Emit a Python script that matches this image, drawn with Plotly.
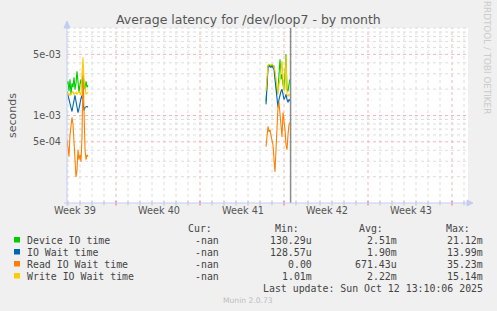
import math
import pandas as pd
import plotly.graph_objects as go

# ---------------- data ----------------
seg1_start = "2025-09-23 22:00"
seg2_start = "2025-10-10 12:00"
sample_step = "2h"

device_seg1 = [2.27e-3, 2.46e-3, 1.89e-3, 2.59e-3, 1.74e-3, 2.33e-3, 2.10e-3, 2.73e-3, 1.99e-3, 2.33e-3, 3.20e-3,
               2.21e-3, 1.84e-3, 2.27e-3, 2.59e-3, 2.10e-3, 2.88e-3, 2.33e-3, 1.99e-3, 2.46e-3, 2.10e-3, 2.21e-3]
iowait_seg1 = [1.89e-3, 1.74e-3, 1.53e-3, 1.37e-3, 1.24e-3, 1.11e-3, 1.30e-3, 1.53e-3, 1.70e-3, 1.45e-3, 1.24e-3,
               1.08e-3, 1.20e-3, 1.41e-3, 1.57e-3, 1.70e-3, 1.34e-3, 1.14e-3, 1.24e-3, 1.27e-3, 1.27e-3, 1.24e-3]
read_seg1 = [5.3e-4, 4.07e-4, 3.38e-4, 6.0e-4, 8.5e-4, 9.5e-4, 7.9e-4, 4.6e-4, 2.73e-4, 1.99e-4, 2.39e-4,
             4.07e-4, 3.12e-4, 3.56e-4, 2.96e-4, 5.7e-4, 3.38e-3, 9.0e-4, 4.07e-4, 3.12e-4, 3.56e-4, 3.38e-4]
write_seg1 = [1.84e-3, 1.74e-3, 1.79e-3, 1.70e-3, 1.74e-3, 1.79e-3, 1.89e-3, 1.74e-3, 1.79e-3, 1.84e-3, 1.74e-3,
              1.79e-3, 1.89e-3, 1.79e-3, 1.70e-3, 2.96e-3, 4.64e-3, 2.59e-3, 1.89e-3, 1.74e-3, 1.79e-3, 1.84e-3]

device_seg2 = [1.45e-3, 2.59e-3, 3.66e-3, 3.76e-3, 3.66e-3, 3.66e-3, 3.76e-3, 3.66e-3, 3.66e-3, 2.96e-3, 2.27e-3,
               1.74e-3, 1.99e-3, 3.38e-3, 4.40e-3, 2.59e-3, 2.96e-3, 2.27e-3, 1.99e-3, 2.96e-3, 5.02e-3, 1.99e-3,
               1.89e-3, 2.27e-3, 2.59e-3]
iowait_seg2 = [1.34e-3, 2.27e-3, 3.56e-3, 3.66e-3, 3.56e-3, 3.56e-3, 3.66e-3, 3.56e-3, 3.38e-3, 2.59e-3, 1.99e-3,
               1.34e-3, 1.24e-3, 1.53e-3, 1.74e-3, 1.89e-3, 1.99e-3, 1.74e-3, 1.53e-3, 1.61e-3, 1.74e-3, 1.53e-3,
               1.41e-3, 1.53e-3, 1.45e-3]
read_seg2 = [4.4e-4, 6.0e-4, 7.5e-4, 6.5e-4, 6.9e-4, 5.9e-4, 5.3e-4, 4.6e-4, 3.12e-4, 2.27e-4, 4.07e-4,
             9.5e-4, 1.24e-3, 1.41e-3, 1.03e-3, 7.9e-4, 5.7e-4, 1.08e-3, 9.0e-4, 6.9e-4, 4.6e-4, 4.07e-4,
             6.0e-4, 7.9e-4, 8.3e-4]
write_seg2 = [1.89e-3, 2.96e-3, 3.76e-3, 3.86e-3, 3.76e-3, 3.76e-3, 3.86e-3, 3.76e-3, 3.66e-3, 3.20e-3, 2.59e-3,
              1.89e-3, 1.74e-3, 2.27e-3, 2.59e-3, 3.38e-3, 4.18e-3, 2.59e-3, 1.89e-3, 2.10e-3, 4.77e-3, 1.74e-3,
              1.65e-3, 1.74e-3, 1.70e-3]

series_names = ["Device IO time", "IO Wait time", "Read IO Wait time", "Write IO Wait time"]
series_colors = ["#00CC00", "#0066B3", "#FF8000", "#FFCC00"]
cur_values = ["-nan", "-nan", "-nan", "-nan"]
min_values = ["130.29u", "128.57u", "0.00", "1.01m"]
avg_values = ["2.51m", "1.90m", "671.43u", "2.22m"]
max_values = ["21.12m", "13.99m", "35.23m", "15.14m"]

week_label_times = ["2025-09-24 14:00", "2025-10-01 14:00", "2025-10-08 14:00", "2025-10-15 14:00", "2025-10-22 14:00"]
week_labels = ["Week 39", "Week 40", "Week 41", "Week 42", "Week 43"]
week_boundaries = ["2025-09-28", "2025-10-05", "2025-10-12", "2025-10-19", "2025-10-26"]
y_tick_vals = [5e-4, 1e-3, 5e-3]
y_tick_text = ["5e-04", "1e-03", "5e-03"]
now_time = "2025-10-12 13:10:06"
x_range = ["2025-09-23 22:00", "2025-10-27 08:00"]

title_text = "Average latency for /dev/loop7 - by month"
last_update = "Last update: Sun Oct 12 13:10:06 2025"

# ---------------- geometry helpers ----------------
W, H = 497, 311
L, R, T, B = 67, 468, 28, 203


def px(x):
    return (x - L) / (R - L)


def py(y):
    return (B - y) / (B - T)


t1 = pd.date_range(seg1_start, periods=len(device_seg1), freq=sample_step)
t2 = pd.date_range(seg2_start, periods=len(device_seg2), freq=sample_step)
gap = t1[-1] + pd.Timedelta(sample_step)
xs = list(t1) + [gap] + list(t2)

all_series = [
    device_seg1 + [None] + device_seg2,
    iowait_seg1 + [None] + iowait_seg2,
    read_seg1 + [None] + read_seg2,
    write_seg1 + [None] + write_seg2,
]

fig = go.Figure()
for name, color, ys in zip(series_names, series_colors, all_series):
    fig.add_trace(go.Scatter(x=xs, y=ys, mode="lines", name=name,
                             line=dict(color=color, width=1.1), connectgaps=False,
                             hoverinfo="skip"))

minor_col = "#DEDEDE"
major_col = "#F4B4B4"
shapes = []
# vertical grid: daily minor, weekly major
day = pd.Timestamp("2025-09-24")
end = pd.Timestamp(x_range[1])
wb = set(pd.Timestamp(d) for d in week_boundaries)
while day <= end:
    major = day in wb
    shapes.append(dict(type="line", xref="x", yref="paper", x0=day, x1=day, y0=0, y1=1,
                       line=dict(color=major_col if major else minor_col, width=1, dash="dot"),
                       layer="below"))
    shapes.append(dict(type="line", xref="x", yref="paper", x0=day, x1=day, y0=py(201), y1=py(205.5),
                       line=dict(color="#E07070" if major else "#C4C4C4", width=1)))
    day += pd.Timedelta("1D")

# horizontal grid (log)
for e in (-4, -3):
    for k in range(1, 10):
        v = k * 10 ** e
        lv = math.log10(v)
        yp = (lv + 4) / 2
        if yp <= 0:
            continue
        major = any(abs(v - tv) < 1e-12 for tv in y_tick_vals)
        shapes.append(dict(type="line", xref="paper", yref="paper", x0=0, x1=1, y0=yp, y1=yp,
                           line=dict(color=major_col if major else minor_col, width=1, dash="dot"),
                           layer="below"))
shapes.append(dict(type="line", xref="paper", yref="paper", x0=0, x1=1, y0=1, y1=1,
                   line=dict(color=minor_col, width=1, dash="dot"), layer="below"))

# now line
shapes.append(dict(type="line", xref="x", yref="paper", x0=now_time, x1=now_time, y0=0, y1=1,
                   line=dict(color="#8A8A8A", width=1.5)))

axis_col = "#C4CCF4"
# axes with arrows
shapes.append(dict(type="line", xref="paper", yref="paper", x0=px(64), x1=px(468), y0=0, y1=0,
                   line=dict(color=axis_col, width=1)))
shapes.append(dict(type="line", xref="paper", yref="paper", x0=0, x1=0, y0=py(206), y1=py(27),
                   line=dict(color=axis_col, width=1)))
shapes.append(dict(type="path", xref="paper", yref="paper",
                   path=f"M {px(467)} {py(200)} L {px(473)} {py(203)} L {px(467)} {py(206)} Z",
                   fillcolor=axis_col, line=dict(color=axis_col, width=1)))
shapes.append(dict(type="path", xref="paper", yref="paper",
                   path=f"M {px(64)} {py(28)} L {px(67)} {py(21)} L {px(70)} {py(28)} Z",
                   fillcolor=axis_col, line=dict(color=axis_col, width=1)))

# legend squares
row_y = [240, 252, 264, 276]
for color, ry in zip(series_colors, row_y):
    shapes.append(dict(type="rect", xref="paper", yref="paper", x0=px(14), x1=px(20),
                       y0=py(ry + 2.5), y1=py(ry - 3), fillcolor=color, line=dict(width=0)))

text_col = "#555555"
mono = "DejaVu Sans Mono"
ann = []
ann.append(dict(text=title_text, x=px(248), y=py(19), xref="paper", yref="paper", showarrow=False,
                xanchor="center", yanchor="middle", font=dict(family="DejaVu Sans", size=12.5, color=text_col)))
ann.append(dict(text="seconds", x=px(12), y=py(116), xref="paper", yref="paper", showarrow=False,
                textangle=-90, xanchor="center", yanchor="middle",
                font=dict(family="DejaVu Sans", size=11, color=text_col)))
ann.append(dict(text="RRDTOOL / TOBI OETIKER", x=px(487), y=py(57), xref="paper", yref="paper", showarrow=False,
                textangle=90, xanchor="center", yanchor="middle",
                font=dict(family="DejaVu Sans", size=8.8, color="#CCCCCC")))


def label(text, x, y, anchor, size=9.9, color="#444444", family=mono):
    ann.append(dict(text=text, x=px(x), y=py(y), xref="paper", yref="paper", showarrow=False,
                    xanchor=anchor, yanchor="middle", borderpad=0,
                    font=dict(family=family, size=size, color=color)))


header_y = 228.5
label("Cur:", 213, header_y, "right")
label("Min:", 300, header_y, "right")
label("Avg:", 384, header_y, "right")
label("Max:", 471, header_y, "right")
for i, ry in enumerate(row_y):
    label(series_names[i], 25.5, ry, "left")
    label(cur_values[i], 220, ry, "right")
    label(min_values[i], 313, ry, "right")
    label(avg_values[i], 398, ry, "right")
    label(max_values[i], 484, ry, "right")
label(last_update, 484, 288, "right")
label("Munin 2.0.73", 248, 300.5, "center", size=7.6, color="#BDBDBD", family="DejaVu Sans")

fig.update_layout(
    width=W, height=H,
    margin=dict(l=L, r=W - R, t=T, b=H - B, pad=0),
    paper_bgcolor="#F0F0F0", plot_bgcolor="#FFFFFF",
    showlegend=False,
    shapes=shapes, annotations=ann,
    xaxis=dict(type="date", range=x_range, showgrid=False, zeroline=False, showline=False,
               tickvals=week_label_times, ticktext=week_labels, ticks="",
               tickfont=dict(family="DejaVu Sans", size=9.7, color=text_col)),
    yaxis=dict(type="log", range=[-4, -2], showgrid=False, zeroline=False, showline=False,
               tickvals=y_tick_vals, ticktext=y_tick_text, ticks="",
               ticklabelstandoff=5,
               tickfont=dict(family="DejaVu Sans", size=9.7, color=text_col)),
)

fig.write_html("out.html")
